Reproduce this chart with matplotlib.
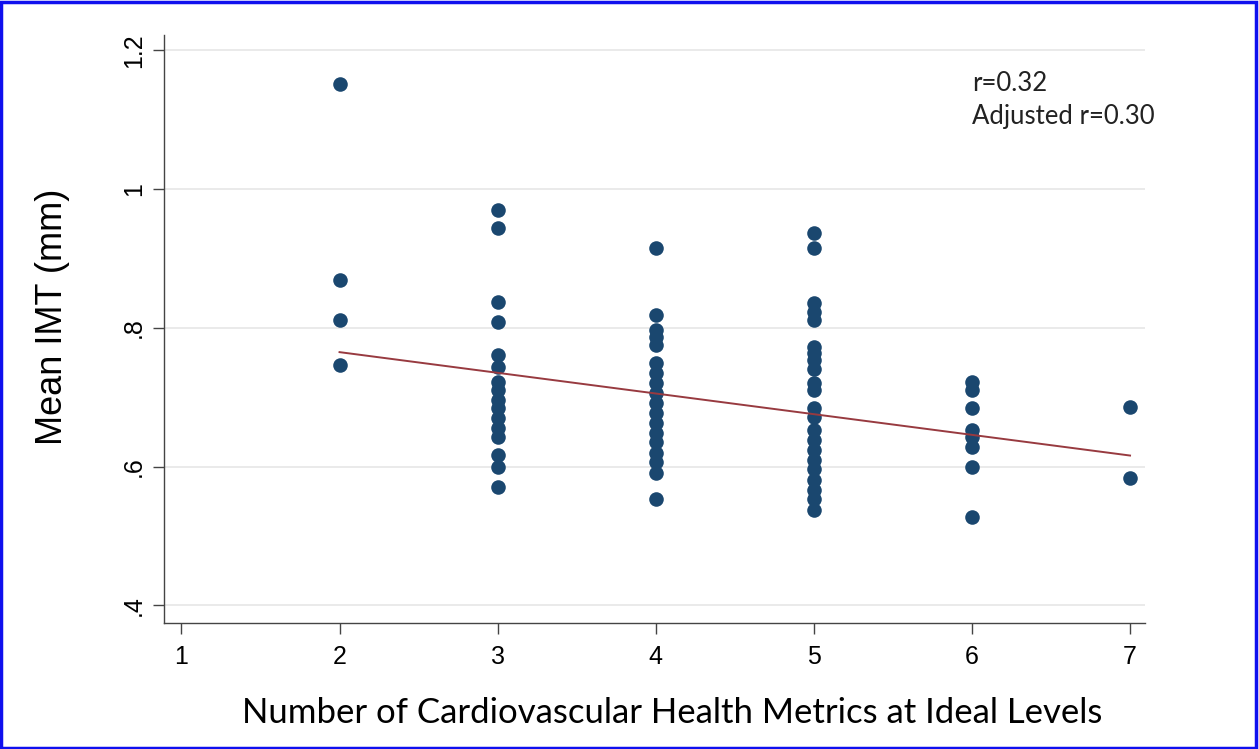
import numpy as np
import matplotlib
matplotlib.use("Agg")
import matplotlib.pyplot as plt
from matplotlib.patches import Rectangle

# Mean IMT (mm) by number of ideal cardiovascular health metrics
imt_2 = [1.151, 0.869, 0.811, 0.747]
imt_3 = [0.970, 0.944, 0.837, 0.809, 0.761, 0.744, 0.722, 0.711, 0.696,
         0.685, 0.670, 0.656, 0.642, 0.617, 0.599, 0.570]
imt_4 = [0.915, 0.819, 0.797, 0.787, 0.776, 0.750, 0.735, 0.721, 0.706,
         0.692, 0.678, 0.663, 0.649, 0.635, 0.620, 0.606, 0.591, 0.553]
imt_5 = [0.937, 0.915, 0.836, 0.823, 0.812, 0.773, 0.764, 0.754, 0.740,
         0.721, 0.711, 0.685, 0.672, 0.653, 0.639, 0.624, 0.610, 0.596,
         0.581, 0.567, 0.553, 0.538]
imt_6 = [0.722, 0.711, 0.685, 0.653, 0.643, 0.629, 0.599, 0.528]
imt_7 = [0.686, 0.584]

groups = [2, 3, 4, 5, 6, 7]
values = [imt_2, imt_3, imt_4, imt_5, imt_6, imt_7]

# fitted line endpoints
fit_x = [2, 7]
fit_y = [0.765, 0.616]

x_ticks = [1, 2, 3, 4, 5, 6, 7]
y_ticks = [0.4, 0.6, 0.8, 1.0, 1.2]
y_tick_labels = [".4", ".6", ".8", "1", "1.2"]

plt.rcParams['font.family'] = ['Liberation Sans', 'DejaVu Sans']
calibri_like = ["Lato", "DejaVu Sans"]

fig = plt.figure(figsize=(12.59, 7.49), dpi=100)
ax = fig.add_axes([0.1303, 0.1685, 0.7792, 0.7848])

xs = np.concatenate([[g] * len(v) for g, v in zip(groups, values)])
ys = np.concatenate(values)
ax.scatter(xs, ys, s=110, color="#1a476f", zorder=3, linewidths=0)
ax.plot(fit_x, fit_y, color="#983a40", lw=1.4, zorder=4)

ax.set_xlim(0.89, 7.095)
ax.set_ylim(0.375, 1.222)
ax.set_xticks(x_ticks)
ax.set_yticks(y_ticks)
ax.set_yticklabels(y_tick_labels, rotation=90, va="center")
ax.tick_params(axis="both", labelsize=18, length=8, color="#444444", width=1)
ax.tick_params(axis="y", pad=5)
ax.tick_params(axis="x", pad=8)
ax.grid(axis="y", color="#e6e6e6", lw=1.2, zorder=0)

for side in ["top", "right"]:
    ax.spines[side].set_visible(False)
for side in ["left", "bottom"]:
    ax.spines[side].set_color("#444444")
    ax.spines[side].set_linewidth(1)

ax.set_ylabel("Mean IMT (mm)", fontsize=26)
ax.yaxis.set_label_coords(-0.096, 0.52)
ax.set_xlabel("Number of Cardiovascular Health Metrics at Ideal Levels",
              fontsize=25, family=calibri_like)
ax.xaxis.set_label_coords(0.518, -0.127)

fig.text(0.772, 0.889, "r=0.32", fontsize=18.5, family=calibri_like,
         va="center", color="#222222")
fig.text(0.772, 0.845, "Adjusted r=0.30", fontsize=18.5,
         family=calibri_like, va="center", color="#222222")

fig.patches.append(Rectangle((0.001, 0.002), 0.997, 0.995, transform=fig.transFigure,
                             fill=False, edgecolor="#1010ee", lw=2.5))

fig.savefig("out.png", dpi=100)
